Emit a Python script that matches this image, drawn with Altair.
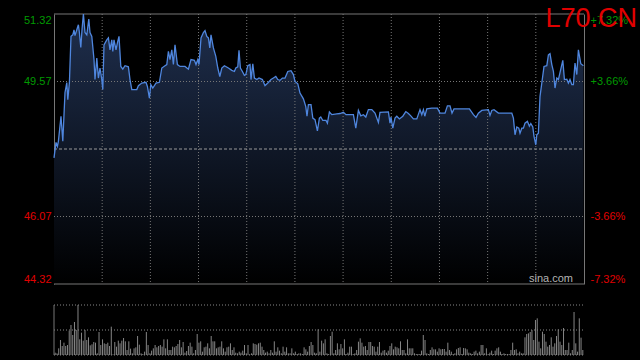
import altair as alt
import pandas as pd

# ---- data ----
prev_close = 47.82
y_min, y_max = 44.32, 51.32
price_ticks = [44.32, 46.07, 49.57, 51.32]
pct_ticks = [-7.32, -3.66, 3.66, 7.32]

times = [
    0, 1, 1.7, 2.2, 3.5, 4.4, 5.5, 6.4, 6.9, 7.7,
    8.5, 9.4, 10, 10.5, 11.4, 12.2, 12.7, 13.4, 14, 14.7,
    15.5, 16.4, 17.4, 18, 18.9, 20, 20.5, 21.4, 22.2, 23,
    23.9, 24.4, 25, 26.4, 27.2, 28, 28.9, 29.4, 30, 31,
    31.7, 32.5, 33.4, 34.4, 35.5, 37.2, 38, 38.9, 41.4, 42.2,
    43.9, 46, 46.7, 47.7, 48.4, 49.4, 51, 52.7, 53.9, 55.5,
    56.4, 57.2, 58, 58.9, 59.7, 60.5, 61.7, 63, 65.5, 67.2,
    68.5, 70.2, 71, 71.9, 72.5, 73.5, 74.7, 75.5, 76.4, 77.2,
    77.9, 78.5, 79.7, 80.9, 81.9, 82.9, 83.9, 85.2, 87.2, 88.9,
    90.2, 90.9, 91.9, 92.5, 93.2, 94.2, 95.2, 95.9, 96.9, 98,
    98.5, 99.4, 100.2, 101.4, 102.5, 104.2, 105.5, 106.9, 108.5, 109.7,
    110.9, 111.9, 113, 114.2, 115.5, 116.9, 118.5, 119.7, 120.5, 121.9,
    123, 124.7, 125.9, 126.5, 127.2, 128.5, 129.4, 130.5, 131.7, 132.7,
    133.4, 134.4, 136, 136.7, 137.7, 138.9, 141.4, 143, 144.7, 146,
    149.7, 150.9, 152.2, 153.4, 154.7, 155.9, 157.2, 158.9, 160.5, 162.2,
    163, 167.2, 168, 168.5, 169.4, 170.5, 171.4, 172.7, 174.4, 175.9,
    177.2, 178.4, 179.7, 181.4, 183, 183.9, 184.7, 185.4, 186.4, 188.9,
    191.7, 193, 195.5, 196.7, 198, 199, 200, 207.7, 209.7, 211,
    212.2, 213.9, 217.2, 218, 218.9, 220, 222.2, 228.9, 229.7, 230.5,
    231.4, 232.4, 233, 233.9, 234.7, 235.5, 236.7, 237.7, 238.4, 239.4,
    240, 240.9, 241.4, 242.2, 243, 243.9, 245, 246.4, 247.2, 248,
    248.9, 249.7, 250.5, 251.4, 252.2, 253.4, 254.4, 255.2, 256.4, 257.2,
    258, 258.9, 259.7, 260.5, 261.4, 262.2, 263.4, 264.7,
]

prices = [
    47.59, 47.99, 47.89, 48.02, 48.67, 48.02, 49.28, 49.54, 49.10, 49.54,
    50.74, 50.78, 50.91, 50.76, 50.91, 51.04, 50.84, 50.45, 50.91, 51.32,
    50.84, 50.78, 51.19, 50.84, 50.74, 50.14, 49.62, 50.18, 49.66, 49.92,
    49.62, 49.36, 50.52, 50.65, 50.70, 50.39, 50.65, 50.35, 50.65, 50.39,
    50.57, 50.74, 49.96, 49.89, 49.98, 49.95, 49.62, 49.36, 49.36, 49.46,
    49.53, 49.55, 49.44, 49.14, 49.49, 49.40, 49.53, 49.55, 49.92, 49.98,
    50.01, 50.35, 50.14, 50.39, 50.01, 50.52, 50.01, 49.96, 49.96, 49.89,
    50.14, 50.12, 50.01, 50.14, 50.01, 50.70, 50.84, 50.89, 50.74, 50.70,
    50.44, 50.78, 50.44, 50.22, 49.92, 49.70, 49.92, 49.98, 49.92, 49.86,
    49.83, 49.92, 49.95, 50.38, 49.92, 49.83, 49.73, 49.75, 49.98, 50.01,
    49.62, 50.03, 49.66, 49.62, 49.66, 49.62, 49.46, 49.53, 49.62, 49.66,
    49.70, 49.62, 49.60, 49.66, 49.66, 49.83, 49.85, 49.75, 49.57, 49.51,
    49.27, 49.12, 48.92, 48.67, 48.97, 48.97, 48.62, 48.58, 48.29, 48.62,
    48.65, 48.56, 48.56, 48.49, 48.78, 48.71, 48.73, 48.74, 48.77, 48.71,
    48.71, 48.36, 48.82, 48.68, 48.71, 48.65, 48.84, 48.84, 48.75, 48.51,
    48.77, 48.78, 48.49, 48.65, 48.36, 48.62, 48.67, 48.60, 48.67, 48.79,
    48.74, 48.68, 48.60, 48.60, 48.84, 48.71, 48.84, 48.67, 48.86, 48.88,
    48.88, 48.75, 48.75, 48.94, 48.94, 48.75, 48.86, 48.86, 48.71, 48.64,
    48.75, 48.82, 48.84, 48.69, 48.82, 48.84, 48.75, 48.75, 48.62, 48.19,
    48.39, 48.36, 48.23, 48.36, 48.36, 48.49, 48.54, 48.41, 48.48, 48.39,
    48.15, 47.93, 48.19, 48.23, 49.18, 49.53, 49.96, 49.98, 50.26, 50.29,
    50.01, 49.83, 49.40, 49.66, 49.62, 49.89, 50.12, 49.62, 49.63, 49.53,
    49.62, 49.49, 49.49, 50.05, 49.75, 50.39, 50.03, 49.98,
]

volumes = [
    7, 5, 20, 45, 27, 37, 27, 30, 73, 90, 60, 99, 75, 150, 47, 67, 43, 75, 45, 53,
    29, 32, 39, 37, 5, 69, 30, 47, 35, 33, 37, 27, 85, 2, 39, 25, 43, 35, 43, 51,
    41, 15, 41, 19, 5, 20, 23, 57, 31, 5, 3, 10, 69, 30, 5, 13, 20, 30, 23, 27,
    30, 25, 47, 20, 47, 15, 15, 25, 23, 27, 33, 45, 23, 39, 7, 12, 27, 37, 25, 5,
    15, 63, 37, 41, 10, 23, 25, 35, 20, 57, 41, 41, 20, 23, 25, 41, 20, 10, 23, 25,
    35, 15, 23, 7, 5, 10, 7, 13, 30, 5, 30, 2, 5, 35, 33, 31, 35, 37, 25, 15,
    7, 10, 5, 15, 7, 41, 10, 23, 13, 5, 25, 10, 23, 5, 5, 20, 5, 10, 3, 5,
    5, 3, 23, 17, 10, 27, 39, 30, 7, 5, 77,
    10, 43, 35, 47, 5, 3, 57, 70, 5, 15, 35, 17, 33, 20, 47, 3, 7, 25, 25, 3,
    5, 15, 40, 50, 37, 25, 27, 15, 39, 39, 27, 25, 10, 25, 39, 7, 13, 15, 7, 13,
    27, 35, 17, 25, 23, 20, 41, 15, 15, 5, 47, 20, 20, 20, 5, 3, 3, 3, 13, 60,
    45, 5, 3, 15, 23, 17, 17, 10, 20, 17, 18, 18, 10, 37, 15, 10, 3, 5, 17, 21,
    23, 3, 21, 20, 17, 7, 5, 3, 10, 13, 5, 10, 30, 30, 5, 20, 3, 7, 13, 3,
    13, 20, 23, 10, 3, 5, 3, 3, 3, 15, 37, 15, 17, 5, 10, 5, 5, 53, 63, 65,
    69, 75, 45, 105, 110, 40, 20, 70, 63, 40, 25, 30, 53, 25, 35, 57, 77, 40, 30, 81,
    15, 15, 37, 5, 15, 129, 35, 10, 110, 52, 15,
]

T_END = 265
VOL_MAX = 150
assert len(times) == len(prices)

price_df = pd.DataFrame({"t": times, "price": prices})
n = len(volumes)
vol_df = pd.DataFrame({
    "t": [0.6 + i * (T_END - 1.2) / (n - 1) for i in range(n)],
    "vol": [max(v, 2) for v in volumes],
})
vgrid_df = pd.DataFrame({"t": [T_END * k / 11 for k in range(1, 11)]})
hgrid_df = pd.DataFrame({"price": [46.07, 49.57]})
border_df = pd.DataFrame({"price": [y_min, y_max]})
volgrid_df = pd.DataFrame({"vol": [0, VOL_MAX / 2, VOL_MAX]})
pct_df = pd.DataFrame({"t": [0, 0], "pct": [-7.32, 7.32]})

FONT = "Liberation Sans"
GREEN = "#009a00"
RED = "#e00000"
GRID = "#767676"

xs = alt.Scale(domain=[0, T_END], range=[0, 530])
ps = alt.Scale(domain=[y_min, y_max], range=[270, 0])
vs = alt.Scale(domain=[0, VOL_MAX], range=[341, 291])

price_axis = alt.Axis(
    values=price_ticks, format=".2f", grid=False, ticks=False,
    domain=True, domainColor="#777", labelFlush=True, labelFlushOffset=0,
    labelPadding=3, labelFont=FONT, labelFontSize=11, title=None,
    labelColor={"condition": {"test": "datum.value > 47.82", "value": GREEN}, "value": RED},
)

area = alt.Chart(price_df).mark_area(
    color=alt.Gradient(
        gradient="linear",
        stops=[alt.GradientStop(color="#000000", offset=0),
               alt.GradientStop(color="#1f2f4e", offset=1)],
        x1=1, x2=1, y1=1, y2=0,
    ),
    interpolate="linear",
).encode(
    x=alt.X("t:Q", scale=xs, axis=None),
    y=alt.Y("price:Q", scale=ps, axis=price_axis),
    y2=alt.Y2(datum=y_min),
)

hgrid = alt.Chart(hgrid_df).mark_rule(color=GRID, strokeDash=[1, 2], strokeWidth=1).encode(
    y=alt.Y("price:Q", scale=ps, axis=price_axis),
    x=alt.value(0), x2=alt.value(530),
)
borders = alt.Chart(border_df).mark_rule(color="#777", strokeWidth=1).encode(
    y=alt.Y("price:Q", scale=ps, axis=price_axis),
    x=alt.value(0), x2=alt.value(530),
)
vgrid = alt.Chart(vgrid_df).mark_rule(color=GRID, strokeDash=[1, 2], strokeWidth=1).encode(
    x=alt.X("t:Q", scale=xs, axis=None),
    y=alt.Y(datum=y_max, scale=ps, axis=price_axis),
    y2=alt.Y2(datum=y_min),
)
midline = alt.Chart(pd.DataFrame({"price": [prev_close]})).mark_rule(
    color="#9a9a9a", strokeDash=[3, 2], strokeWidth=1
).encode(
    y=alt.Y("price:Q", scale=ps, axis=price_axis),
    x=alt.value(0), x2=alt.value(530),
)
line = alt.Chart(price_df).mark_line(color="#4f86de", strokeWidth=1.3).encode(
    x=alt.X("t:Q", scale=xs, axis=None),
    y=alt.Y("price:Q", scale=ps, axis=price_axis),
)
title = alt.Chart(pd.DataFrame({"s": ["L70.CN"]})).mark_text(
    color=RED, font=FONT, fontSize=27, align="right", baseline="alphabetic"
).encode(text="s:N", x=alt.value(583), y=alt.value(13))
sina = alt.Chart(pd.DataFrame({"s": ["sina.com"]})).mark_text(
    color="#b4b4b4", font=FONT, fontSize=11, align="right", baseline="alphabetic"
).encode(text="s:N", x=alt.value(519), y=alt.value(268))

price_group = alt.layer(area, hgrid, vgrid, midline, borders, line, sina, title)

volgrid = alt.Chart(volgrid_df).mark_rule(color="#888", strokeDash=[1, 2], strokeWidth=1).encode(
    y=alt.Y("vol:Q", scale=vs, axis=None),
    x=alt.value(0), x2=alt.value(530),
)
vol_border = alt.Chart(pd.DataFrame({"t": [0]})).mark_rule(color="#777", strokeWidth=1).encode(
    x=alt.X("t:Q", scale=xs, axis=None),
    y=alt.Y(datum=0, scale=vs, axis=None),
    y2=alt.Y2(datum=VOL_MAX),
)
vol_bars = alt.Chart(vol_df).mark_rule(color="#858585", strokeWidth=1).encode(
    x=alt.X("t:Q", scale=xs, axis=None),
    y=alt.Y("vol:Q", scale=vs, axis=None),
    y2=alt.Y2(datum=0),
)
vol_group = alt.layer(volgrid, vol_border, vol_bars)

pct_layer = alt.Chart(pct_df).mark_point(opacity=0).encode(
    x=alt.X("t:Q", scale=xs, axis=None),
    y=alt.Y("pct:Q", scale=alt.Scale(domain=[-7.32, 7.32], range=[270, 0]), axis=alt.Axis(
        orient="right", values=pct_ticks, grid=False, ticks=False, domain=True,
        domainColor="#777", labelFlush=True, labelFlushOffset=0, labelPadding=6,
        labelFont=FONT, labelFontSize=11, title=None,
        labelExpr="(datum.value > 0 ? '+' : '-') + format(abs(datum.value), '.2f') + '%'",
        labelColor={"condition": {"test": "datum.value > 0", "value": GREEN}, "value": RED},
    )),
)

chart = alt.layer(price_group, vol_group, pct_layer).resolve_scale(
    y="independent"
).properties(
    width=530, height=341,
    padding={"left": 54, "top": 14, "right": 56, "bottom": 5},
    autosize=alt.AutoSizeParams(type="none"),
    background="#000000",
).configure_view(strokeWidth=0)

chart.save("out.html", embed_options={"renderer": "svg", "actions": False})
